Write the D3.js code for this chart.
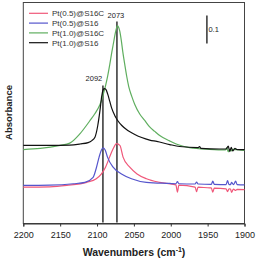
<!DOCTYPE html>
<html><head><meta charset="utf-8">
<script src="https://cdn.jsdelivr.net/npm/d3@7"></script>
<style>body{margin:0;background:#fff}svg{display:block;font-family:"Liberation Sans",Arial,sans-serif}</style>
</head><body><div id="chart"></div>
<script>
const seriesNames = ["Pt(0.5)@S16C","Pt(0.5)@S16","Pt(1.0)@S16C","Pt(1.0)@S16"];
const seriesColors = ["#f0587a","#5555cc","#5fae5f","#111111"];
const xTicks = [2200,2150,2100,2050,2000,1950,1900];
const peakLabels = [2092, 2073];
const peakTops = [0.493, 0.721];
const scaleBar = {wn: 1951, from: 0.643, size: 0.1, label: "0.1"};

// [wavenumber, absorbance]
const redData = [[2200,0.130],[2164,0.131],[2141,0.136],[2114,0.147],[2101,0.160],[2094,0.177],[2088.5,0.201],[2083,0.237],[2078,0.268],[2073.6,0.285],[2069,0.279],[2064.7,0.237],[2055.6,0.201],[2045.7,0.177],[2033,0.160],[2015,0.147],[1993,0.138],[1991,0.112],[1989,0.137],[1967,0.130],[1965,0.114],[1963,0.130],[1947,0.127],[1945,0.127],[1943,0.112],[1941,0.126],[1925,0.124],[1923,0.114],[1921,0.124],[1919,0.123],[1917.6,0.111],[1915,0.123],[1912,0.118],[1910,0.122],[1900,0.121]];
const blueData = [[2200,0.136],[2164,0.137],[2132,0.142],[2116.5,0.147],[2105.3,0.165],[2100.7,0.201],[2097.2,0.237],[2094.2,0.262],[2091.7,0.270],[2088.8,0.262],[2085.8,0.237],[2078.2,0.201],[2066.8,0.177],[2053.3,0.160],[2033,0.147],[2001.5,0.143],[1993,0.142],[1991,0.150],[1989,0.142],[1967,0.141],[1965,0.148],[1963,0.141],[1945,0.140],[1943,0.151],[1941,0.140],[1925,0.139],[1923,0.153],[1921,0.139],[1919,0.139],[1917.6,0.147],[1915,0.139],[1912,0.151],[1910,0.139],[1900,0.138]];
const greenData = [[2200,0.264],[2177,0.268],[2150,0.279],[2137,0.287],[2123,0.321],[2110,0.366],[2103,0.392],[2096,0.425],[2093.5,0.443],[2090.8,0.468],[2088.1,0.496],[2085.4,0.529],[2082.7,0.568],[2080,0.611],[2077.3,0.650],[2075.3,0.679],[2073.6,0.698],[2072.3,0.707],[2070.9,0.702],[2069.1,0.686],[2067.1,0.654],[2065.1,0.614],[2062.4,0.568],[2059.7,0.525],[2057,0.489],[2052.9,0.454],[2048.8,0.425],[2042.1,0.391],[2035.3,0.368],[2028.6,0.345],[2021.8,0.329],[2015,0.314],[2001.5,0.295],[1990.7,0.282],[1974.5,0.271],[1947.4,0.265],[1926,0.263],[1924,0.270],[1922,0.256],[1920,0.266],[1918,0.259],[1916,0.265],[1900,0.261]];
const blackData = [[2200,0.279],[2164,0.279],[2137,0.280],[2123,0.284],[2112,0.289],[2107,0.296],[2103,0.307],[2099,0.350],[2096,0.404],[2093.5,0.457],[2091.5,0.479],[2090,0.482],[2088,0.479],[2085.4,0.461],[2082.7,0.436],[2080,0.411],[2076,0.386],[2072,0.368],[2066.4,0.350],[2058.3,0.332],[2048.8,0.318],[2039.4,0.307],[2028.6,0.298],[2019,0.293],[2001.5,0.282],[1988,0.275],[1963,0.271],[1961,0.275],[1959,0.268],[1934,0.266],[1925,0.266],[1922,0.276],[1920,0.257],[1918,0.272],[1916,0.259],[1913,0.268],[1910,0.264],[1900,0.264]];
const allData = [redData, blueData, greenData, blackData];

const W = 257, H = 262;
const m = {top: 2.5, right: 12.5, bottom: 38.5, left: 23.3};
const svg = d3.select("#chart").append("svg").attr("width", W).attr("height", H);
const x = d3.scaleLinear().domain([2200,1900]).range([m.left, W - m.right]);
const y = d3.scaleLinear().domain([0, (H - m.bottom - m.top)/280]).range([H - m.bottom, m.top]);

// frame
svg.append("rect").attr("x", m.left).attr("y", m.top)
  .attr("width", W - m.left - m.right).attr("height", H - m.top - m.bottom)
  .attr("fill", "none").attr("stroke", "#444").attr("stroke-width", 1);

// x axis
const xAxis = svg.append("g").attr("transform", `translate(0,${H - m.bottom})`)
  .call(d3.axisBottom(x).tickValues(xTicks).tickSize(3).tickFormat(d3.format("d")));
xAxis.select(".domain").attr("stroke", "#333");
xAxis.selectAll(".tick line").attr("stroke", "#333");
xAxis.selectAll("text").attr("font-size", 9).attr("fill", "#222").attr("dy", "0.95em");

// axis titles
const tx = svg.append("text").attr("x", 134).attr("y", 256).attr("text-anchor", "middle")
  .attr("font-size", 10.5).attr("font-weight", "bold").attr("fill", "#222");
tx.append("tspan").text("Wavenumbers (cm");
tx.append("tspan").text("-1").attr("font-size", 7).attr("dy", -4);
tx.append("tspan").text(")").attr("dy", 4);
svg.append("text").attr("transform", "translate(11.5,112.5) rotate(-90)")
  .attr("text-anchor", "middle").attr("font-size", 9.5).attr("font-weight", "bold")
  .attr("fill", "#222").text("Absorbance");

// peak marker lines
peakLabels.forEach((p, i) => {
  svg.append("line").attr("x1", x(p)).attr("x2", x(p))
    .attr("y1", y(peakTops[i])).attr("y2", y(0) - 1)
    .attr("stroke", "#111").attr("stroke-width", 1.3);
});

// curves
const line = d3.line().x(d => x(d[0])).y(d => y(d[1])).curve(d3.curveMonotoneX);
allData.forEach((data, i) => {
  svg.append("path").datum(data.slice().sort((a,b) => b[0]-a[0]))
    .attr("d", line).attr("fill", "none")
    .attr("stroke", seriesColors[i]).attr("stroke-width", 1.2);
});

// peak labels
peakLabels.forEach((p, i) => {
  svg.append("text").attr("x", x(p) - (i === 0 ? 9 : 1)).attr("y", y(peakTops[i]) - 4)
    .attr("text-anchor", "middle").attr("font-size", 7.5).attr("fill", "#222").text(p);
});

// scale bar
svg.append("line").attr("x1", x(scaleBar.wn)).attr("x2", x(scaleBar.wn))
  .attr("y1", y(scaleBar.from)).attr("y2", y(scaleBar.from + scaleBar.size))
  .attr("stroke", "#333").attr("stroke-width", 1.5);
svg.append("text").attr("x", x(scaleBar.wn) + 1.5).attr("y", y(scaleBar.from + scaleBar.size/2) + 2.5)
  .attr("font-size", 7.5).attr("fill", "#222").text(scaleBar.label);

// legend
const lg = svg.append("g");
seriesNames.forEach((n, i) => {
  const yy = 13.3 + i * 9.8;
  lg.append("line").attr("x1", 29).attr("x2", 48).attr("y1", yy).attr("y2", yy)
    .attr("stroke", seriesColors[i]).attr("stroke-width", 1.2);
  lg.append("text").attr("x", 52).attr("y", yy + 2.8).attr("font-size", 8)
    .attr("fill", "#333").text(n);
});
</script></body></html>
